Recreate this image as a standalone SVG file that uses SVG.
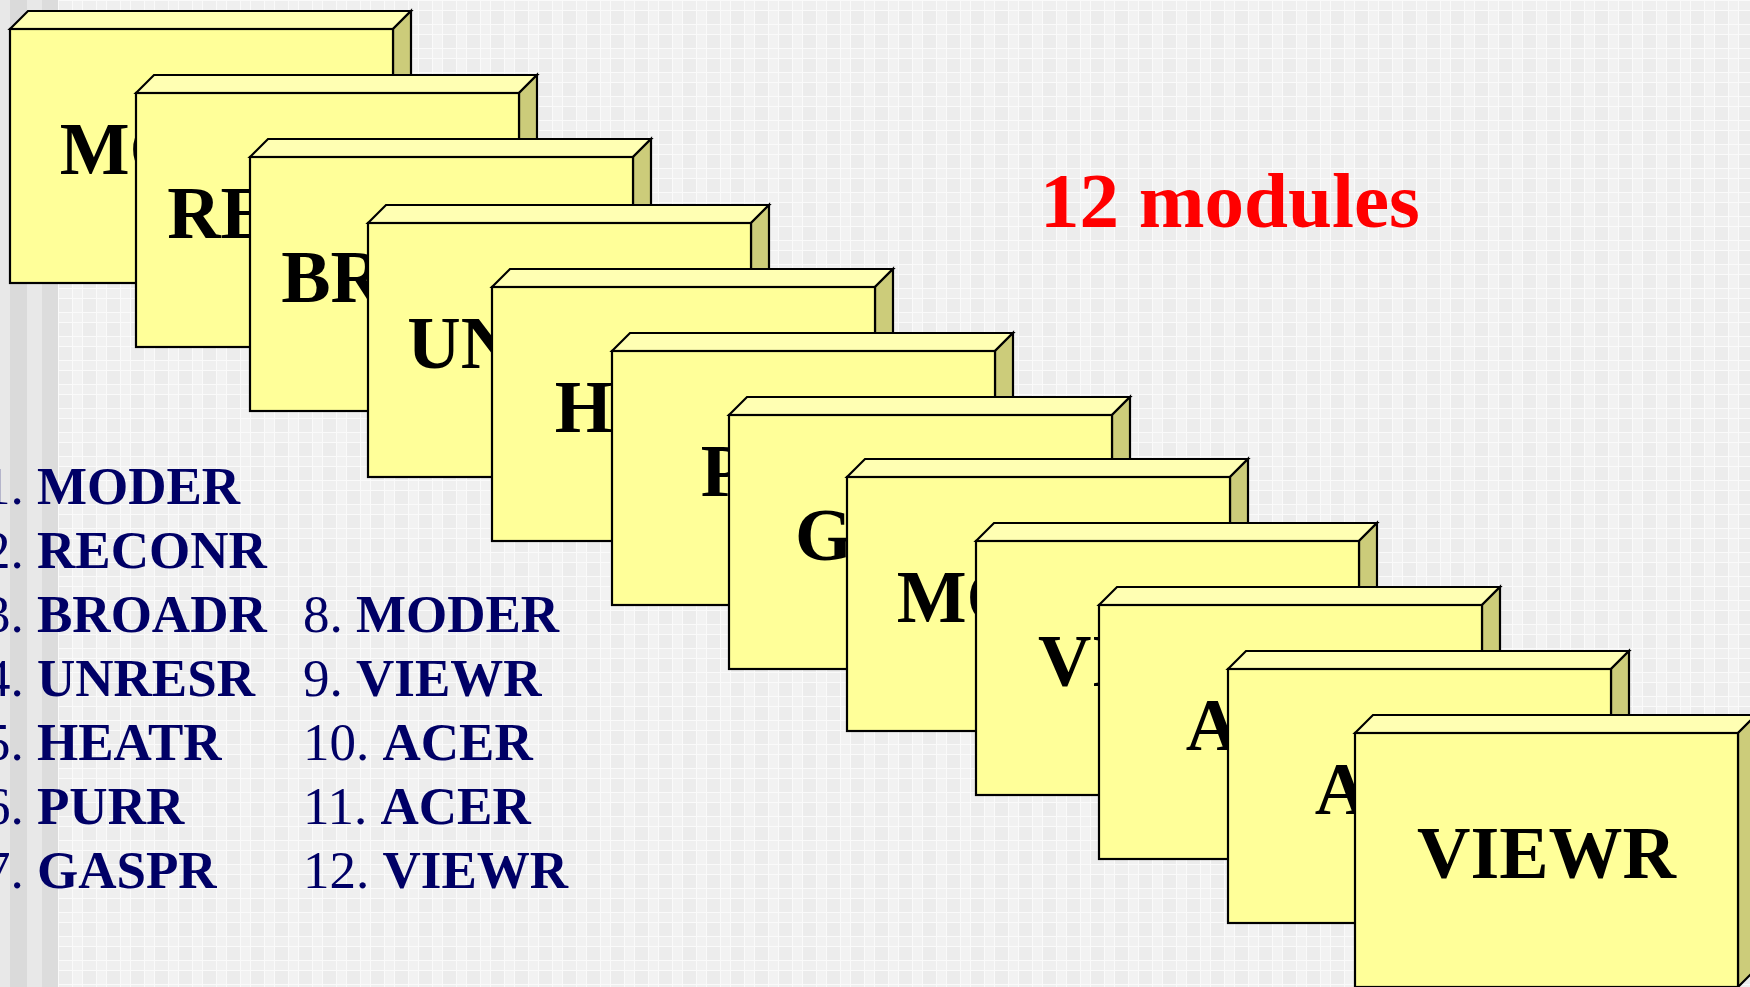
<svg xmlns="http://www.w3.org/2000/svg" width="1750" height="987" viewBox="0 0 1750 987">
<defs>
<pattern id="grid" x="0" y="0" width="24" height="24" patternUnits="userSpaceOnUse">
<rect width="24" height="24" fill="#ececec"/>
<rect x="0" y="0" width="10" height="24" fill="#f2f2f2"/>
<rect x="0" y="0" width="24" height="10" fill="#f2f2f2" opacity="0.7"/>
<rect x="0" y="0" width="1" height="24" fill="#fafafa"/>
<rect x="10" y="0" width="1" height="24" fill="#fafafa"/>
<rect x="0" y="0" width="24" height="1" fill="#fafafa"/>
<rect x="0" y="10" width="24" height="1" fill="#fafafa"/>
</pattern>
</defs>
<style>
.face{stroke:#000;stroke-width:2.2;stroke-linejoin:miter}
.front{fill:#ffff99}
.top{fill:#ffffb3}
.side{fill:#cccc7a}
.lbl{font-family:"Liberation Serif","Times New Roman",serif;font-weight:bold;font-size:74px;fill:#000;text-anchor:middle}
.list{font-family:"Liberation Serif","Times New Roman",serif;font-size:53px;fill:#000066}
.list .b{font-weight:bold}
.title{font-family:"Liberation Serif","Times New Roman",serif;font-weight:bold;font-size:79px;fill:#ff0000}
</style>
<rect width="1750" height="987" fill="url(#grid)"/>
<rect x="0" y="0" width="10" height="987" fill="#e8e8e8"/>
<rect x="10" y="0" width="17" height="987" fill="#dadada"/>
<rect x="27" y="0" width="15" height="987" fill="#e8e8e8"/>
<rect x="42" y="0" width="16" height="987" fill="#dcdcdc"/>

<g id="connectors"></g>

<g id="list">
<text class="list" x="-16" y="504">1. <tspan class="b">MODER</tspan></text>
<text class="list" x="-16" y="568">2. <tspan class="b">RECONR</tspan></text>
<text class="list" x="-16" y="632">3. <tspan class="b">BROADR</tspan></text>
<text class="list" x="-16" y="696">4. <tspan class="b">UNRESR</tspan></text>
<text class="list" x="-16" y="760">5. <tspan class="b">HEATR</tspan></text>
<text class="list" x="-16" y="824">6. <tspan class="b">PURR</tspan></text>
<text class="list" x="-16" y="888">7. <tspan class="b">GASPR</tspan></text>
<text class="list" x="303" y="632">8. <tspan class="b">MODER</tspan></text>
<text class="list" x="303" y="696">9. <tspan class="b">VIEWR</tspan></text>
<text class="list" x="303" y="760">10. <tspan class="b">ACER</tspan></text>
<text class="list" x="303" y="824">11. <tspan class="b">ACER</tspan></text>
<text class="list" x="303" y="888">12. <tspan class="b">VIEWR</tspan></text>
</g>

<g id="title"><text class="title" x="1040" y="227">12 modules</text></g>

<g id="m1" transform="translate(10,29)">
<polygon class="face top" points="0,0 18,-18 401,-18 383,0"/>
<polygon class="face side" points="383,0 401,-18 401,236 383,254"/>
<rect class="face front" x="0" y="0" width="383" height="254"/>
<text class="lbl" x="191.5" y="145">MODER</text>
</g>
<g id="m2" transform="translate(136,93)">
<polygon class="face top" points="0,0 18,-18 401,-18 383,0"/>
<polygon class="face side" points="383,0 401,-18 401,236 383,254"/>
<rect class="face front" x="0" y="0" width="383" height="254"/>
<text class="lbl" x="191.5" y="145">RECONR</text>
</g>
<g id="m3" transform="translate(250,157)">
<polygon class="face top" points="0,0 18,-18 401,-18 383,0"/>
<polygon class="face side" points="383,0 401,-18 401,236 383,254"/>
<rect class="face front" x="0" y="0" width="383" height="254"/>
<text class="lbl" x="191.5" y="145">BROADR</text>
</g>
<g id="m4" transform="translate(368,223)">
<polygon class="face top" points="0,0 18,-18 401,-18 383,0"/>
<polygon class="face side" points="383,0 401,-18 401,236 383,254"/>
<rect class="face front" x="0" y="0" width="383" height="254"/>
<text class="lbl" x="191.5" y="145">UNRESR</text>
</g>
<g id="m5" transform="translate(492,287)">
<polygon class="face top" points="0,0 18,-18 401,-18 383,0"/>
<polygon class="face side" points="383,0 401,-18 401,236 383,254"/>
<rect class="face front" x="0" y="0" width="383" height="254"/>
<text class="lbl" x="191.5" y="145">HEATR</text>
</g>
<g id="m6" transform="translate(612,351)">
<polygon class="face top" points="0,0 18,-18 401,-18 383,0"/>
<polygon class="face side" points="383,0 401,-18 401,236 383,254"/>
<rect class="face front" x="0" y="0" width="383" height="254"/>
<text class="lbl" x="191.5" y="145">PURR</text>
</g>
<g id="m7" transform="translate(729,415)">
<polygon class="face top" points="0,0 18,-18 401,-18 383,0"/>
<polygon class="face side" points="383,0 401,-18 401,236 383,254"/>
<rect class="face front" x="0" y="0" width="383" height="254"/>
<text class="lbl" x="191.5" y="145">GASPR</text>
</g>
<g id="m8" transform="translate(847,477)">
<polygon class="face top" points="0,0 18,-18 401,-18 383,0"/>
<polygon class="face side" points="383,0 401,-18 401,236 383,254"/>
<rect class="face front" x="0" y="0" width="383" height="254"/>
<text class="lbl" x="191.5" y="145">MODER</text>
</g>
<g id="m9" transform="translate(976,541)">
<polygon class="face top" points="0,0 18,-18 401,-18 383,0"/>
<polygon class="face side" points="383,0 401,-18 401,236 383,254"/>
<rect class="face front" x="0" y="0" width="383" height="254"/>
<text class="lbl" x="191.5" y="145">VIEWR</text>
</g>
<g id="m10" transform="translate(1099,605)">
<polygon class="face top" points="0,0 18,-18 401,-18 383,0"/>
<polygon class="face side" points="383,0 401,-18 401,236 383,254"/>
<rect class="face front" x="0" y="0" width="383" height="254"/>
<text class="lbl" x="191.5" y="145">ACER</text>
</g>
<g id="m11" transform="translate(1228,669)">
<polygon class="face top" points="0,0 18,-18 401,-18 383,0"/>
<polygon class="face side" points="383,0 401,-18 401,236 383,254"/>
<rect class="face front" x="0" y="0" width="383" height="254"/>
<text class="lbl" x="191.5" y="145">ACER</text>
</g>
<g id="m12" transform="translate(1355,733)">
<polygon class="face top" points="0,0 18,-18 401,-18 383,0"/>
<polygon class="face side" points="383,0 401,-18 401,236 383,254"/>
<rect class="face front" x="0" y="0" width="383" height="254"/>
<text class="lbl" x="191.5" y="145">VIEWR</text>
</g>
</svg>
